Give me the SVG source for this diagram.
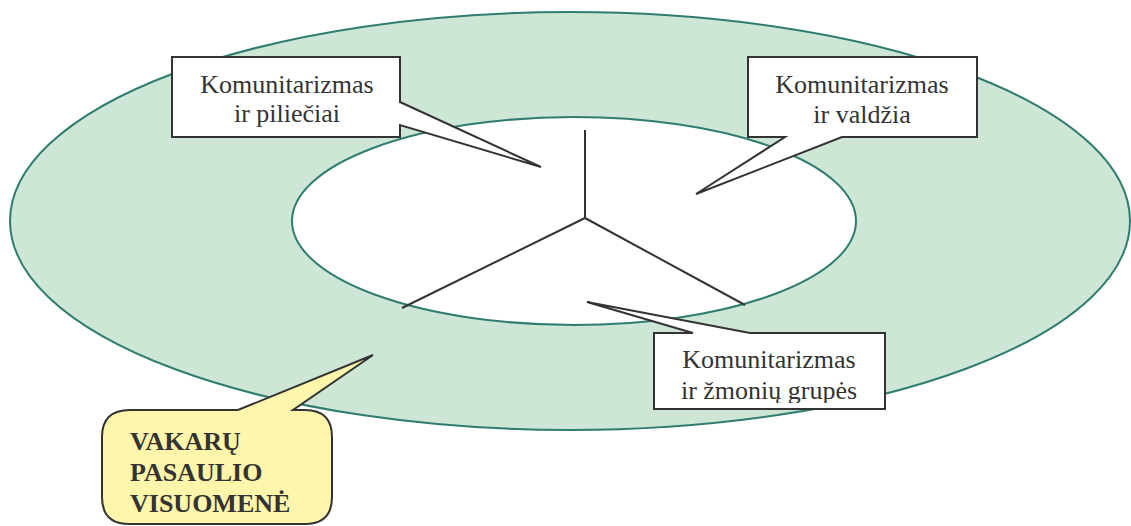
<svg xmlns="http://www.w3.org/2000/svg" width="1131" height="526" viewBox="0 0 1131 526">
<defs>
<style>
.ring{fill:#cde6d6;stroke:#2f7d70;stroke-width:2}
.inner{fill:#ffffff;stroke:#2f7d70;stroke-width:2}
.conn{stroke:#333333;stroke-width:2;fill:none}
.call{fill:#ffffff;stroke:#333333;stroke-width:2;stroke-linejoin:miter}
.ycall{fill:#fff6ab;stroke:#333333;stroke-width:2}
.t{font-family:"Liberation Serif","Times New Roman",serif;font-size:26px;fill:#333333;text-anchor:middle}
.b{font-family:"Liberation Serif","Times New Roman",serif;font-size:26px;font-weight:bold;fill:#333333}
</style>
<clipPath id="c3"><rect x="655" y="334" width="229" height="69"/></clipPath>
</defs>
<rect width="1131" height="526" fill="#ffffff"/>
<g id="society">
<ellipse class="ring" cx="570" cy="221" rx="560" ry="209"/>
</g>
<g id="core">
<ellipse class="inner" cx="574" cy="221" rx="282" ry="104"/>
</g>
<g id="connectors">
<line class="conn" x1="585" y1="130" x2="585" y2="218"/>
<line class="conn" x1="585" y1="218" x2="402" y2="308"/>
<line class="conn" x1="585" y1="218" x2="745" y2="305"/>
</g>
<g id="citizens">
<path class="call" d="M172,57 H400 V102 L541,167 L400,125 V137 H172 Z"/>
<text class="t" x="287" y="93">Komunitarizmas</text>
<text class="t" x="287" y="122">ir piliečiai</text>
</g>
<g id="government">
<path class="call" d="M748,57 H977 V137 H842 L696,194 L785,137 H748 Z"/>
<text class="t" x="862" y="93">Komunitarizmas</text>
<text class="t" x="862" y="123">ir valdžia</text>
</g>
<g id="groups">
<path class="call" d="M654,333 H693 L587,302 L750,333 H885 V409 H654 Z"/>
<g clip-path="url(#c3)">
<text class="t" x="769" y="368">Komunitarizmas</text>
<text class="t" x="769" y="399">ir žmonių grupės</text>
</g>
</g>
<g id="western">
<path class="ycall" d="M130,410 L238,410 L373,355 L293,410 L305,410 Q332,410 332,437 L332,497 Q332,524 305,524 L129,524 Q102,524 102,497 L102,437 Q102,410 130,410 Z"/>
<text class="b" x="130" y="450">VAKARŲ</text>
<text class="b" x="130" y="481">PASAULIO</text>
<text class="b" x="130" y="512">VISUOMENĖ</text>
</g>
</svg>
